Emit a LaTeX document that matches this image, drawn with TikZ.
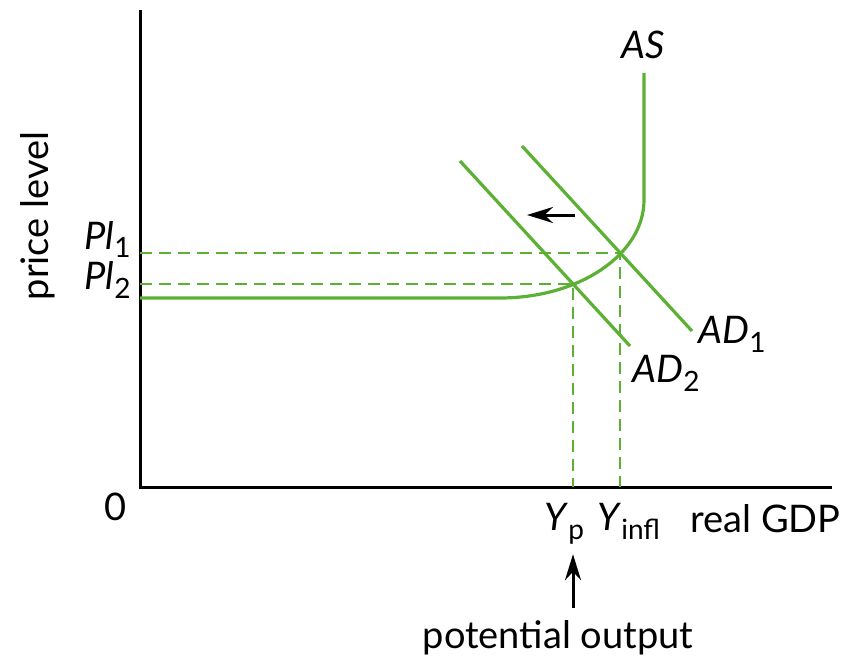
\documentclass[tikz,border=0pt]{standalone}
\usepackage{fontspec}
\setmainfont{Lato}
\usetikzlibrary{arrows.meta}
\definecolor{curvegreen}{RGB}{92,176,52}
\newcommand{\idx}[1]{\raisebox{-4.5pt}{\fontsize{14}{14}\selectfont\upshape #1}}

\begin{document}
\begin{tikzpicture}[
  x=0.5pt, y=-0.5pt,
  axis/.style={line width=1.5pt, black},
  curve/.style={line width=1.6pt, curvegreen},
  guide/.style={line width=0.9pt, curvegreen, dash pattern=on 6pt off 3.5pt},
  pointer/.style={-{Stealth[length=13pt, width=8pt]}, line width=1.5pt, black},
  lbl/.style={font=\fontsize{19}{22}\selectfont, inner sep=0pt}
]
  \useasboundingbox (0,0) rectangle (862,658);

  % axes
  \coordinate (origin) at (140,487);
  \coordinate (ytop) at (140,10);
  \coordinate (xend) at (832,487);
  \draw[axis] (ytop) -- (origin) -- (xend);

  % equilibria
  \coordinate (e1) at (620,253);
  \coordinate (e2) at (573,284);

  % guide lines
  \draw[guide] (e1 -| origin) -- (e1) -- (e1 |- origin);
  \draw[guide] (e2 -| origin) -- (e2) -- (e2 |- origin);

  % aggregate supply
  \coordinate (as0) at (140,298);
  \coordinate (bend) at (500,298);
  \coordinate (astop) at (644,73);
  \draw[curve] (as0) -- (bend) arc[start angle=90, end angle=0, x radius=144, y radius=98] -- (astop);

  % aggregate demand
  \coordinate (ad1top) at (522,146);
  \coordinate (ad1end) at (692,331);
  \coordinate (ad2top) at (460,161);
  \coordinate (ad2end) at (630,346);
  \draw[curve] (ad1top) -- (ad1end);
  \draw[curve] (ad2top) -- (ad2end);

  % shift
  \coordinate (shfrom) at (575,215);
  \coordinate (shto) at (527,215);
  \draw[pointer] (shfrom) -- (shto);

  % labels
  \node[lbl, anchor=base] (aslab) at (643,59) {\textit{AS}};
  \node[lbl, anchor=base west] (ad1lab) at (698,343) {\textit{AD}\idx{1}};
  \node[lbl, anchor=base west] (ad2lab) at (632,382) {\textit{AD}\idx{2}};
  \node[lbl, anchor=base east] (pl1lab) at (131,249) {\textit{Pl}\idx{1}};
  \node[lbl, anchor=base east] (pl2lab) at (131,289) {\textit{Pl}\idx{2}};
  \node[lbl] (zero) at (116,507) {0};
  \node[lbl, anchor=base west] (yplab) at (544,530) {\textit{Y}\idx{p}};
  \node[lbl, anchor=base west] (yinfllab) at (597,530) {\textit{Y}\idx{infl}};
  \node[lbl, anchor=base west] (gdplab) at (690,532) {real GDP};
  \node[lbl, anchor=base] (potlab) at (558,648) {potential output};
  \node[lbl, rotate=90] (pricelab) at (38,216) {price level};

  \draw[pointer, shorten <=6pt, shorten >=5pt] (potlab.north -| e2) -- (yplab.south -| e2);
\end{tikzpicture}
\end{document}
